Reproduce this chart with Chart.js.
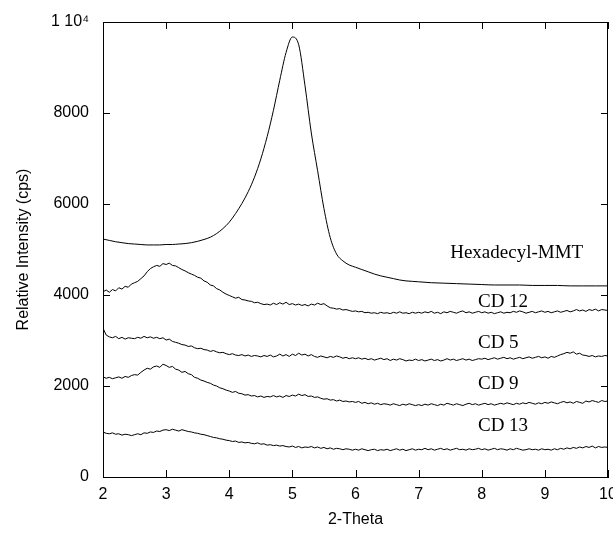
<!DOCTYPE html>
<html>
<head>
<meta charset="utf-8">
<script src="https://cdn.jsdelivr.net/npm/chart.js@4.4.1/dist/chart.umd.min.js"></script>
<style>
  body{margin:0;background:#fff;}
  canvas{display:block;}
</style>
</head>
<body>
<canvas id="myChart" width="613" height="542"></canvas>
<script>
// 2-theta steps for the CD samples (0.05 deg)
const theta=[
 2.00,2.05,2.10,2.15,2.20,2.25,2.30,2.35,2.40,2.45,2.50,2.55,2.60,2.65,2.70,2.75,2.80,2.85,2.90,2.95,
 3.00,3.05,3.10,3.15,3.20,3.25,3.30,3.35,3.40,3.45,3.50,3.55,3.60,3.65,3.70,3.75,3.80,3.85,3.90,3.95,
 4.00,4.05,4.10,4.15,4.20,4.25,4.30,4.35,4.40,4.45,4.50,4.55,4.60,4.65,4.70,4.75,4.80,4.85,4.90,4.95,
 5.00,5.05,5.10,5.15,5.20,5.25,5.30,5.35,5.40,5.45,5.50,5.55,5.60,5.65,5.70,5.75,5.80,5.85,5.90,5.95,
 6.00,6.05,6.10,6.15,6.20,6.25,6.30,6.35,6.40,6.45,6.50,6.55,6.60,6.65,6.70,6.75,6.80,6.85,6.90,6.95,
 7.00,7.05,7.10,7.15,7.20,7.25,7.30,7.35,7.40,7.45,7.50,7.55,7.60,7.65,7.70,7.75,7.80,7.85,7.90,7.95,
 8.00,8.05,8.10,8.15,8.20,8.25,8.30,8.35,8.40,8.45,8.50,8.55,8.60,8.65,8.70,8.75,8.80,8.85,8.90,8.95,
 9.00,9.05,9.10,9.15,9.20,9.25,9.30,9.35,9.40,9.45,9.50,9.55,9.60,9.65,9.70,9.75,9.80,9.85,9.90,9.95,
 10.00]

const cd12=[
 4070,4110,4060,4120,4090,4160,4130,4190,4170,4240,4270,4300,4360,4420,4510,4580,4620,4650,4630,4690,
 4670,4700,4650,4640,4600,4560,4530,4490,4460,4430,4390,4370,4310,4280,4220,4200,4140,4110,4060,4020,
 3990,3960,3930,3950,3900,3890,3870,3860,3830,3840,3810,3790,3800,3780,3820,3790,3830,3800,3840,3790,
 3810,3780,3800,3770,3790,3760,3800,3780,3820,3790,3810,3760,3720,3710,3690,3700,3670,3680,3660,3640,
 3650,3630,3640,3610,3620,3600,3610,3590,3620,3600,3610,3590,3620,3600,3630,3600,3610,3590,3620,3600,
 3620,3600,3630,3610,3640,3600,3620,3590,3630,3610,3640,3620,3600,3630,3650,3610,3630,3600,3620,3640,
 3610,3630,3600,3620,3590,3610,3630,3600,3620,3610,3640,3620,3650,3630,3600,3620,3640,3610,3630,3650,
 3620,3640,3610,3630,3650,3620,3640,3660,3630,3650,3680,3650,3670,3640,3680,3660,3690,3650,3680,3670,
 3660]

const cd5=[
 3270,3120,3080,3060,3090,3040,3070,3030,3060,3050,3040,3070,3050,3090,3060,3080,3050,3070,3040,3060,
 3010,3030,2980,2960,2940,2910,2900,2870,2880,2840,2820,2830,2800,2790,2760,2780,2750,2730,2740,2710,
 2690,2710,2680,2670,2690,2660,2680,2650,2670,2660,2640,2670,2650,2680,2640,2660,2700,2660,2690,2650,
 2700,2670,2720,2680,2700,2660,2690,2650,2630,2660,2640,2620,2650,2630,2660,2640,2610,2630,2600,2620,
 2600,2620,2590,2610,2580,2600,2570,2590,2610,2580,2600,2560,2590,2570,2600,2580,2550,2570,2560,2590,
 2560,2580,2550,2570,2590,2560,2580,2550,2570,2600,2570,2590,2560,2580,2600,2570,2590,2560,2580,2600,
 2590,2610,2580,2600,2620,2590,2610,2630,2600,2620,2590,2610,2630,2600,2620,2640,2610,2630,2650,2620,
 2640,2610,2650,2630,2660,2690,2710,2740,2720,2750,2700,2720,2680,2670,2650,2670,2640,2660,2650,2670,
 2660]

const cd9=[
 2200,2170,2190,2160,2180,2200,2170,2210,2190,2230,2250,2240,2300,2350,2390,2370,2420,2440,2410,2480,
 2450,2410,2430,2370,2350,2300,2320,2270,2250,2190,2170,2130,2110,2080,2060,2020,2000,1960,1940,1910,
 1890,1860,1880,1840,1830,1800,1810,1780,1790,1760,1780,1750,1770,1760,1790,1760,1780,1750,1790,1770,
 1800,1780,1820,1790,1810,1770,1780,1750,1760,1730,1710,1720,1690,1700,1670,1690,1660,1670,1650,1660,
 1640,1660,1620,1640,1610,1630,1600,1620,1590,1610,1600,1580,1610,1590,1570,1600,1580,1610,1590,1570,
 1590,1570,1600,1580,1610,1590,1570,1600,1580,1620,1600,1580,1610,1590,1570,1600,1620,1590,1610,1580,
 1600,1620,1590,1610,1580,1600,1620,1600,1630,1610,1590,1620,1600,1630,1610,1640,1620,1600,1630,1610,
 1640,1620,1650,1630,1610,1640,1660,1630,1650,1620,1660,1640,1620,1670,1650,1680,1660,1640,1680,1660,
 1670]

const cd13=[
 990,960,950,970,940,950,920,940,930,910,930,950,930,970,960,990,980,1010,1000,1030,
 1040,1020,1050,1030,1010,1040,1020,1000,990,970,960,940,930,910,890,870,860,840,830,810,
 800,780,790,760,770,750,760,740,730,750,720,730,700,710,690,700,680,690,670,660,
 680,650,670,640,660,650,670,640,660,630,650,620,640,610,630,620,600,620,610,590,
 610,590,620,600,580,600,610,580,600,590,610,580,600,620,590,610,580,600,620,590,
 610,600,630,600,620,590,610,630,600,620,590,610,630,600,610,590,620,600,610,630,
 600,620,590,610,630,600,620,610,590,620,600,630,610,590,600,620,600,610,590,620,
 600,610,590,620,600,630,610,640,620,650,630,660,640,670,650,680,640,670,650,660,
 650]

// Hexadecyl-MMT, smooth trace (0.1 deg)
const hexTheta=[
 2.0,2.1,2.2,2.3,2.4,2.5,2.6,2.7,2.8,2.9,
 3.0,3.1,3.2,3.3,3.4,3.5,3.6,3.7,3.8,3.9,
 4.0,4.1,4.2,4.3,4.4,4.5,4.6,4.7,4.8,4.9,
 5.0,5.1,5.2,5.3,5.4,5.5,5.6,5.7,5.8,5.9,
 6.0,6.1,6.2,6.3,6.4,6.5,6.6,6.7,6.8,6.9,
 7.0,7.2,7.4,7.6,7.8,8.0,8.2,8.4,8.6,8.8,
 9.0,9.2,9.4,9.6,9.8,10.0]
const hexadecyl=[
 5230,5200,5170,5150,5130,5120,5110,5100,5100,5100,
 5110,5110,5120,5130,5150,5180,5220,5270,5350,5460,
 5600,5790,6010,6270,6590,6990,7480,8060,8720,9330,
 9670,9500,8600,7560,6730,5900,5260,4900,4750,4660,
 4610,4560,4510,4460,4420,4390,4360,4330,4310,4300,
 4290,4270,4260,4250,4240,4230,4220,4220,4220,4210,
 4210,4210,4200,4200,4200,4200]

const xTicks=[2,3,4,5,6,7,8,9,10]
const yTicks=[0,2000,4000,6000,8000,10000]

// curve labels (in data units)
const etiquetas=[
 {text:'Hexadecyl-MMT', x:7.5, y:4930},
 {text:'CD 12', x:7.94, y:3840},
 {text:'CD 5', x:7.94, y:2940},
 {text:'CD 9', x:7.94, y:2040},
 {text:'CD 13', x:7.94, y:1120}
]

function puntos(xs, ys){
    let arr=[]
    for(let i=0;i<xs.length;i++){
        arr.push({x:xs[i], y:ys[i]})
    }
    return arr
}

const marco={
    id:'marco',
    afterDraw(chart){
        const ctx=chart.ctx
        const a=chart.chartArea
        const sx=chart.scales.x
        const sy=chart.scales.y
        ctx.save()
        ctx.strokeStyle='#000'
        ctx.lineWidth=1
        ctx.beginPath()
        // top and right edges of the box
        ctx.moveTo(a.left, a.top+0.5); ctx.lineTo(a.right, a.top+0.5)
        ctx.moveTo(a.right-0.5, a.top); ctx.lineTo(a.right-0.5, a.bottom)
        // inward tick marks
        xTicks.forEach(v=>{
            const px=Math.round(sx.getPixelForValue(v))+0.5
            ctx.moveTo(px, a.bottom); ctx.lineTo(px, a.bottom-7)
            ctx.moveTo(px, a.top); ctx.lineTo(px, a.top+7)
        })
        yTicks.forEach(v=>{
            const py=Math.round(sy.getPixelForValue(v))+0.5
            ctx.moveTo(a.left, py); ctx.lineTo(a.left+7, py)
            ctx.moveTo(a.right, py); ctx.lineTo(a.right-7, py)
        })
        ctx.stroke()
        // curve names
        ctx.fillStyle='#000'
        ctx.font='19px "Liberation Serif", "Times New Roman", serif'
        ctx.textAlign='left'
        ctx.textBaseline='middle'
        etiquetas.forEach(e=>{
            ctx.fillText(e.text, sx.getPixelForValue(e.x), sy.getPixelForValue(e.y))
        })
        ctx.restore()
    }
}

function grafico(){
    const ctx=document.getElementById('myChart')
    const linea={borderColor:'#000', borderWidth:1, pointRadius:0, fill:false, tension:0}
    const fuente={family:'"Liberation Sans", Arial, sans-serif', size:16}

    new Chart(ctx,{
        type:'line',
        data:{
            datasets:[
                Object.assign({label:'Hexadecyl-MMT', data:puntos(hexTheta,hexadecyl)}, linea, {cubicInterpolationMode:'monotone'}),
                Object.assign({label:'CD 12', data:puntos(theta,cd12)}, linea),
                Object.assign({label:'CD 5', data:puntos(theta,cd5)}, linea),
                Object.assign({label:'CD 9', data:puntos(theta,cd9)}, linea),
                Object.assign({label:'CD 13', data:puntos(theta,cd13)}, linea)
            ]
        },
        options:{
            responsive:false,
            animation:false,
            layout:{padding:{top:22, right:5, left:0, bottom:0}},
            plugins:{legend:{display:false}, tooltip:{enabled:false}},
            scales:{
                x:{
                    type:'linear', min:2, max:10,
                    afterFit:(s)=>{ s.height=65; s.paddingLeft=0; s.paddingRight=0 },
                    afterBuildTicks:(s)=>{ s.ticks=xTicks.map(v=>({value:v})) },
                    grid:{display:true, drawOnChartArea:false, drawTicks:false},
                    border:{display:true, color:'#000', width:1},
                    ticks:{color:'#000', padding:8, maxRotation:0, font:fuente},
                    title:{display:true, text:'2-Theta', color:'#000', padding:{top:0,bottom:13}, font:fuente}
                },
                y:{
                    min:0, max:10000,
                    afterFit:(s)=>{ s.width=103; s.paddingTop=0; s.paddingBottom=0 },
                    afterBuildTicks:(s)=>{ s.ticks=yTicks.map(v=>({value:v})) },
                    grid:{display:true, drawOnChartArea:false, drawTicks:false},
                    border:{display:true, color:'#000', width:1},
                    ticks:{color:'#000', padding:14, font:fuente,
                        callback:(v)=> v==10000 ? '1 10\u2074' : String(v)},
                    title:{display:true, text:'Relative Intensity (cps)', color:'#000', padding:{top:14,bottom:0}, font:fuente}
                }
            }
        },
        plugins:[marco]
    })
}

grafico()
</script>
</body>
</html>
